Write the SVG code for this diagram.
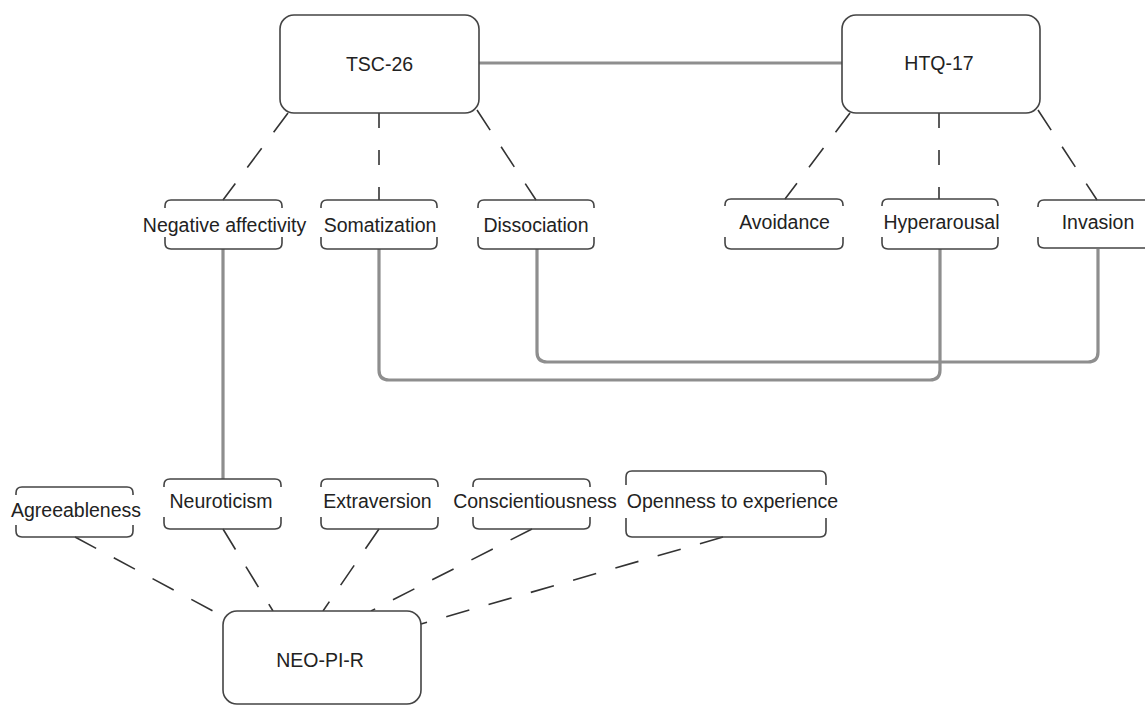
<svg xmlns="http://www.w3.org/2000/svg" width="1145" height="707" viewBox="0 0 1145 707">
<style>
.big{fill:#fff;stroke:#444;stroke-width:1.6}
.br{fill:none;stroke:#444;stroke-width:1.6;stroke-linejoin:round}
.t{font-family:"Liberation Sans",Arial,sans-serif;font-size:19.5px;fill:#222;text-anchor:middle}
.solid{fill:none;stroke:#8e8e8e;stroke-width:3.2}
.dash{fill:none;stroke:#333;stroke-width:1.6;stroke-dasharray:24 20}
.vdash{fill:none;stroke:#333;stroke-width:1.6;stroke-dasharray:15 22}
</style>
<rect width="1145" height="707" fill="#fff"/>
<g id="connectors">
<path class="solid" d="M479 63H842"/>
<path class="solid" d="M223 249V479"/>
<path class="solid" d="M379 249V370Q379 380 389 380H930Q940 380 940 370V249"/>
<path class="solid" d="M537 249V352Q537 362 547 362H1088Q1098 362 1098 352V249"/>
<path class="dash" d="M288 113L223 200"/>
<path class="vdash" d="M379 113V200"/>
<path class="dash" d="M477 110L536 200"/>
<path class="dash" d="M850 113L785 199"/>
<path class="vdash" d="M939 113V199"/>
<path class="dash" d="M1038 110L1097 200"/>
<path class="dash" d="M75 537L226 618"/>
<path class="dash" d="M223 529L273 611"/>
<path class="dash" d="M379 529L323 611"/>
<path class="dash" d="M532 529L371 611"/>
<path class="dash" d="M723 537L421 624"/>
</g>
<g id="tsc26">
<rect class="big" x="280" y="15" width="199" height="98" rx="14"/>
<text class="t" x="379.5" y="71">TSC-26</text>
</g>
<g id="htq17">
<rect class="big" x="842" y="15" width="198" height="98" rx="14"/>
<text class="t" x="939" y="70">HTQ-17</text>
</g>
<g id="neopir">
<rect class="big" x="223" y="611" width="198" height="93" rx="14"/>
<text class="t" x="320" y="667">NEO-PI-R</text>
</g>
<g id="negative-affectivity">
<path class="br" d="M165 208V206Q165 200 171 200H276Q282 200 282 206V208M165 237V243Q165 249 171 249H276Q282 249 282 243V237"/>
<text class="t" x="224.5" y="232">Negative affectivity</text>
</g>
<g id="somatization">
<path class="br" d="M321 208V206Q321 200 327 200H431Q437 200 437 206V208M321 237V243Q321 249 327 249H431Q437 249 437 243V237"/>
<text class="t" x="380" y="232">Somatization</text>
</g>
<g id="dissociation">
<path class="br" d="M478 208V206Q478 200 484 200H588Q594 200 594 206V208M478 237V243Q478 249 484 249H588Q594 249 594 243V237"/>
<text class="t" x="536" y="232">Dissociation</text>
</g>
<g id="avoidance">
<path class="br" d="M725 206V205Q725 199 731 199H837Q843 199 843 205V206M725 237V243Q725 249 731 249H837Q843 249 843 243V237"/>
<text class="t" x="784.5" y="229">Avoidance</text>
</g>
<g id="hyperarousal">
<path class="br" d="M882 206V205Q882 199 888 199H992Q998 199 998 205V206M882 237V243Q882 249 888 249H992Q998 249 998 243V237"/>
<text class="t" x="941.5" y="229">Hyperarousal</text>
</g>
<g id="invasion">
<path class="br" d="M1038 207V206Q1038 200 1044 200H1160M1038 237V242Q1038 248 1044 248H1160"/>
<text class="t" x="1098" y="229">Invasion</text>
</g>
<g id="agreeableness">
<path class="br" d="M16 495V493Q16 487 22 487H127Q133 487 133 493V495M16 525V531Q16 537 22 537H127Q133 537 133 531V525"/>
<text class="t" x="76" y="517">Agreeableness</text>
</g>
<g id="neuroticism">
<path class="br" d="M164 487V485Q164 479 170 479H275Q281 479 281 485V487M164 517V523Q164 529 170 529H275Q281 529 281 523V517"/>
<text class="t" x="221" y="508">Neuroticism</text>
</g>
<g id="extraversion">
<path class="br" d="M321 487V485Q321 479 327 479H432Q438 479 438 485V487M321 517V523Q321 529 327 529H432Q438 529 438 523V517"/>
<text class="t" x="377.5" y="508">Extraversion</text>
</g>
<g id="conscientiousness">
<path class="br" d="M473 487V485Q473 479 479 479H584Q590 479 590 485V487M473 517V523Q473 529 479 529H584Q590 529 590 523V517"/>
<text class="t" x="535" y="508">Conscientiousness</text>
</g>
<g id="openness">
<path class="br" d="M626 485V477Q626 471 632 471H820Q826 471 826 477V485M626 518V531Q626 537 632 537H820Q826 537 826 531V518"/>
<text class="t" x="732.5" y="508">Openness to experience</text>
</g>
</svg>
